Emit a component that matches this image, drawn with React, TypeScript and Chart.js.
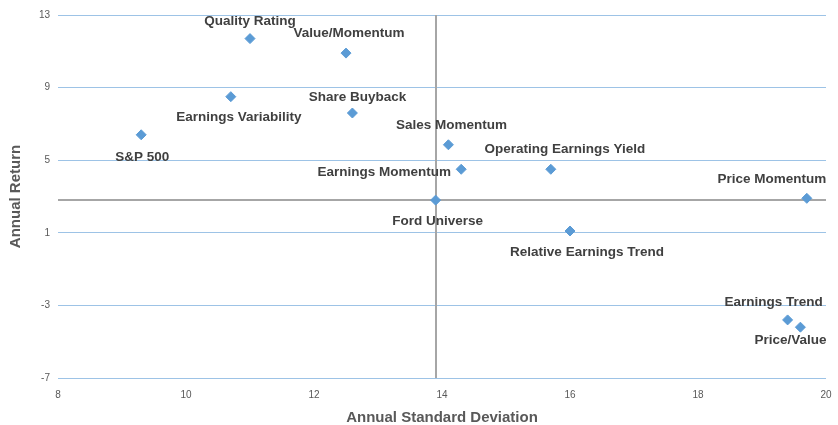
import React, { useEffect, useRef } from "react";
import { Chart, registerables } from "chart.js";

Chart.register(...registerables);

const strategies = [
  "Quality Rating",
  "Value/Momentum",
  "Earnings Variability",
  "Share Buyback",
  "S&P 500",
  "Sales Momentum",
  "Earnings Momentum",
  "Operating Earnings Yield",
  "Ford Universe",
  "Price Momentum",
  "Relative Earnings Trend",
  "Earnings Trend",
  "Price/Value",
];
const stdDev = [11.0, 12.5, 10.7, 12.6, 9.3, 14.1, 14.3, 15.7, 13.9, 19.7, 16.0, 19.4, 19.6];
const annualReturn = [11.7, 10.9, 8.5, 7.6, 6.4, 5.85, 4.5, 4.5, 2.8, 2.9, 1.1, -3.8, -4.2];

const xTicks = [8, 10, 12, 14, 16, 18, 20];
const yTicks = [-7, -3, 1, 5, 9, 13];

// label placement offsets (pixels) relative to each point
const labelDx = [0, 3, 8, 5, 1, 3, -77, 14, 2, -35, 17, -14, -10];
const labelDy = [-17, -20, 21, -16, 22, -19, 3, -20, 21, -19, 21, -18, 13];

const crossIndex = strategies.indexOf("Ford Universe");

export default function App() {
  const ref = useRef<HTMLCanvasElement | null>(null);

  useEffect(() => {
    document.body.style.margin = "0";
    const canvas = ref.current;
    if (!canvas) return;

    const crossPlugin = {
      id: "cross",
      beforeDatasetsDraw(chart: any) {
        const { ctx, chartArea, scales } = chart;
        const px = Math.round(scales.x.getPixelForValue(stdDev[crossIndex]));
        const py = Math.round(scales.y.getPixelForValue(annualReturn[crossIndex]));
        ctx.save();
        ctx.strokeStyle = "#a6a6a6";
        ctx.lineWidth = 2;
        ctx.beginPath();
        ctx.moveTo(px, chartArea.top);
        ctx.lineTo(px, chartArea.bottom);
        ctx.moveTo(chartArea.left, py);
        ctx.lineTo(chartArea.right, py);
        ctx.stroke();
        ctx.restore();
      },
    };

    const labelPlugin = {
      id: "pointLabels",
      afterDatasetsDraw(chart: any) {
        const { ctx } = chart;
        const meta = chart.getDatasetMeta(0);
        ctx.save();
        ctx.font = "bold 13.5px 'Liberation Sans', Arial, sans-serif";
        ctx.fillStyle = "#404040";
        ctx.textAlign = "center";
        ctx.textBaseline = "middle";
        meta.data.forEach((el: any, i: number) => {
          ctx.fillText(strategies[i], el.x + labelDx[i], el.y + labelDy[i]);
        });
        ctx.restore();
      },
    };

    const chart = new Chart(canvas, {
      type: "scatter",
      data: {
        datasets: [
          {
            data: stdDev.map((x, i) => ({ x, y: annualReturn[i] })),
            pointStyle: "rectRot",
            pointRadius: 5,
            pointHoverRadius: 5,
            backgroundColor: "#5b9bd5",
            borderColor: "#5b9bd5",
            borderWidth: 1,
          },
        ],
      },
      options: {
        responsive: false,
        animation: false,
        layout: { padding: { top: 15, right: 12, left: 0, bottom: 0 } },
        plugins: {
          legend: { display: false },
          tooltip: { enabled: false },
        },
        scales: {
          x: {
            type: "linear",
            min: xTicks[0],
            max: xTicks[xTicks.length - 1],
            afterBuildTicks: (s: any) => {
              s.ticks = xTicks.map((v) => ({ value: v }));
            },
            afterFit: (s: any) => {
              s.height = 47;
              s.paddingLeft = 0;
              s.paddingRight = 0;
            },
            grid: { display: false, drawTicks: false },
            border: { display: false },
            ticks: {
              padding: 11,
              color: "#595959",
              font: { size: 10, family: "'Liberation Sans', Arial, sans-serif" },
            },
            title: {
              display: true,
              text: "Annual Standard Deviation",
              color: "#595959",
              font: { size: 15, weight: "bold", family: "'Liberation Sans', Arial, sans-serif", lineHeight: 1 },
              padding: { top: 0, bottom: 0 },
            },
          },
          y: {
            type: "linear",
            min: yTicks[0],
            max: yTicks[yTicks.length - 1],
            afterBuildTicks: (s: any) => {
              s.ticks = yTicks.map((v) => ({ value: v }));
            },
            afterFit: (s: any) => {
              s.width = 58;
            },
            grid: { color: "#9dc3e6", lineWidth: 1, drawTicks: false },
            border: { display: false },
            ticks: {
              padding: 8,
              color: "#595959",
              font: { size: 10, family: "'Liberation Sans', Arial, sans-serif" },
            },
            title: {
              display: true,
              text: "Annual Return",
              color: "#595959",
              font: { size: 15, weight: "bold", family: "'Liberation Sans', Arial, sans-serif", lineHeight: 1 },
              padding: { top: 8, bottom: 0 },
            },
          },
        },
      },
      plugins: [crossPlugin, labelPlugin],
    });

    return () => chart.destroy();
  }, []);

  return (
    <div style={{ position: "absolute", left: 0, top: 0, width: 838, height: 425 }}>
      <canvas ref={ref} width={838} height={425} style={{ display: "block" }} />
    </div>
  );
}
